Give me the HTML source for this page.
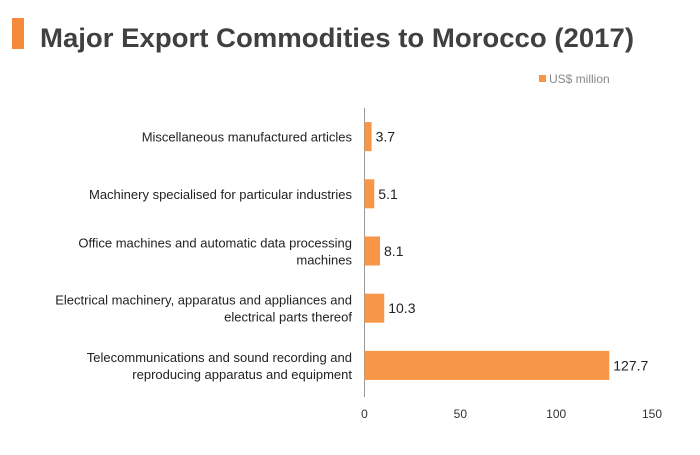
<!DOCTYPE html>
<html><head><meta charset="utf-8"><style>
body{margin:0;background:#fff;font-family:"Liberation Sans",sans-serif;}
</style></head><body>
<svg width="700" height="450" xmlns="http://www.w3.org/2000/svg" style="font-family:'Liberation Sans',sans-serif">
<rect x="12" y="18" width="12" height="31" fill="#f58a3c"/>
<text x="40" y="47" font-size="27" font-weight="bold" fill="#404040" textLength="594" lengthAdjust="spacingAndGlyphs">Major Export Commodities to Morocco (2017)</text>
<rect x="539" y="75" width="7" height="7" fill="#f79646"/>
<text x="549" y="83" font-size="12" fill="#888">US$ million</text>
<g id="plot"></g>
</svg>
<script>
const categories=[["Miscellaneous manufactured articles"],["Machinery specialised for particular industries"],["Office machines and automatic data processing","machines"],["Electrical machinery, apparatus and appliances and","electrical parts thereof"],["Telecommunications and sound recording and","reproducing apparatus and equipment"]];
const values=[3.7,5.1,8.1,10.3,127.7];
const valueLabels=["3.7","5.1","8.1","10.3","127.7"];
const ticks=[0,50,100,150];
const NS="http://www.w3.org/2000/svg";
const plotG=document.getElementById('plot');
const x0=364.5,x1=652,plotTop=108,plotBottom=397;
const xs=v=>x0+(v-0)/(150-0)*(x1-x0);
const band=(plotBottom-plotTop-3)/categories.length;
const yc=i=>plotTop+band*(i+0.5);
function mk(t,a){const e=document.createElementNS(NS,t);for(const k in a)e.setAttribute(k,a[k]);plotG.appendChild(e);return e;}
const ax=mk('line',{x1:x0,x2:x0,y1:plotTop,y2:plotBottom,stroke:'#999','stroke-width':1});


ticks.forEach(t=>{const e=mk('text',{x:xs(t),y:418,'font-size':12,'text-anchor':'middle',fill:'#333'});e.textContent=t;

});
values.forEach((v,i)=>{
const r=mk('rect',{x:x0,y:yc(i)-14.5,width:xs(v)-x0,height:29,fill:'#f79646'});


const l=mk('text',{x:xs(v)+4,y:yc(i)+5,'font-size':14,fill:'#222'});l.textContent=valueLabels[i];


const lines=categories[i];
lines.forEach((s,j)=>{const c=mk('text',{x:352,y:yc(i)+5+(j-(lines.length-1)/2)*17,'font-size':13,'text-anchor':'end',fill:'#222'});c.textContent=s;

});
});
</script>
</body></html>
